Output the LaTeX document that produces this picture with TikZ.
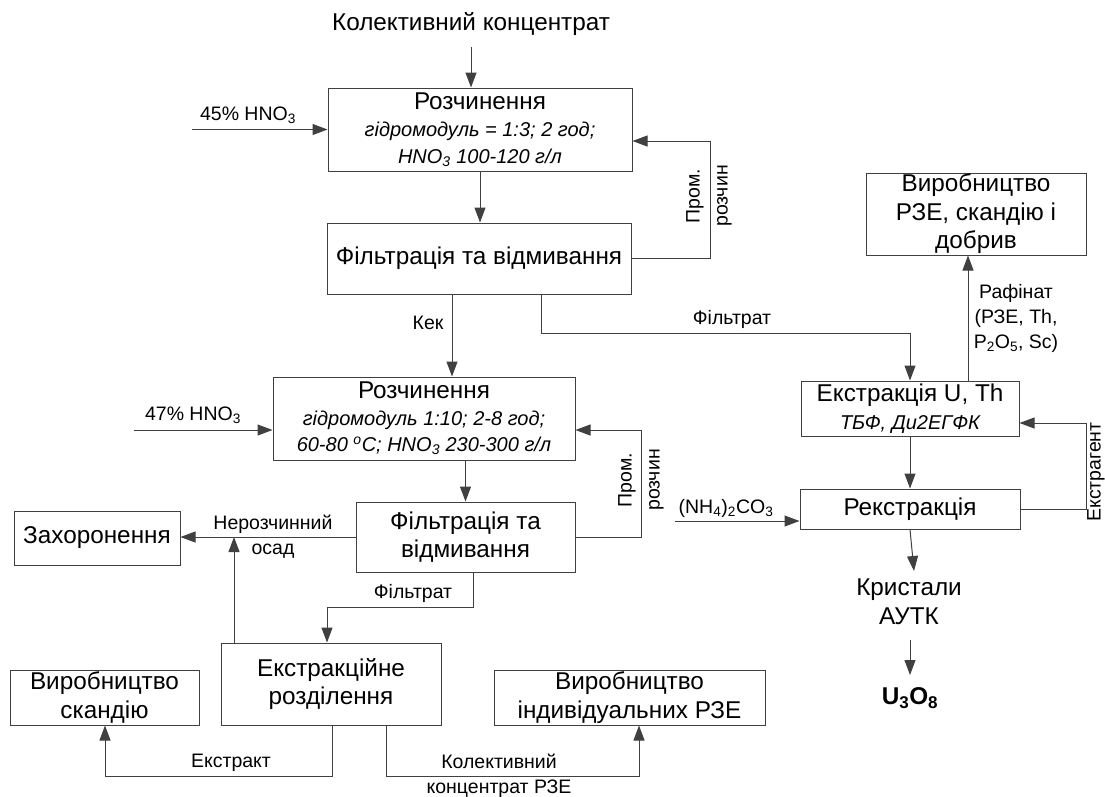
\documentclass[tikz,border=0pt]{standalone}
\usepackage{fontspec}
\setmainfont{Liberation Sans}
\usetikzlibrary{arrows.meta}
\newcommand\mainf{\fontsize{24.3}{28.5}\selectfont}
\newcommand\labf{\fontsize{19.5}{25}\selectfont}
\newcommand\itf{\fontsize{20}{27}\selectfont\itshape}
\tikzset{
  box/.style={draw=black!75, line width=1pt, inner sep=0pt, align=center, font=\mainf},
  arr/.style={draw=black!75, line width=1pt, -{Triangle[length=15pt,width=11pt]}},
  ln/.style={draw=black!75, line width=1pt},
  lab/.style={inner sep=0pt, align=center, font=\labf},
  rlab/.style={inner sep=0pt, align=center, font=\fontsize{19.5}{28}\selectfont, rotate=90},
  txt/.style={inner sep=0pt, align=center, font=\mainf}
}
\begin{document}
\begin{tikzpicture}[x=1pt,y=-1pt]
\useasboundingbox (0,0) rectangle (1105,796);
% boxes
\node[box, font=\itf, minimum width=304pt, minimum height=83pt] (r1) at (480,129.5)
  {{\mainf\upshape Розчинення}\\гідромодуль = 1:3; 2 год;\\HNO\textsubscript{3} 100-120 г/л};
\node[box, minimum width=304pt, minimum height=71pt] (f1) at (479,258.5) {Фільтрація та відмивання};
\node[box, font=\fontsize{20}{26.5}\selectfont\itshape, minimum width=302pt, minimum height=83pt] (r2) at (424,418.5)
  {{\mainf\upshape Розчинення}\\гідромодуль 1:10; 2-8 год;\\60-80 \textsuperscript{o}C; HNO\textsubscript{3} 230-300 г/л};
\node[box, minimum width=219pt, minimum height=70pt] (f2) at (465.5,537) {Фільтрація та\\відмивання};
\node[box, minimum width=166pt, minimum height=54pt] (zk) at (97,538) {Захоронення};
\node[box, minimum width=220pt, minimum height=82pt] (er) at (331,684) {Екстракційне\\розділення};
\node[box, minimum width=189pt, minimum height=55pt] (sc) at (104.5,697.5) {Виробництво\\скандію};
\node[box, minimum width=271pt, minimum height=55pt] (ind) at (629.5,697.5) {Виробництво\\індивідуальних РЗЕ};
\node[box, minimum width=220pt, minimum height=82pt] (vr) at (976,214) {Виробництво\\РЗЕ, скандію і\\добрив};
\node[box, font=\fontsize{20}{28}\selectfont\itshape, minimum width=218pt, minimum height=55pt] (eu) at (910,408.5)
  {{\mainf\upshape Екстракція U, Th}\\ТБФ, Ди2ЕГФК};
\node[box, minimum width=220pt, minimum height=40pt] (rk) at (910,509) {Рекстракція};
% free texts
\node[txt] (kc) at (471,24) {Колективний концентрат};
\node[txt, font=\fontsize{24.3}{29}\selectfont] (kr) at (909,602) {Кристали\\АУТК};
\node[txt] (u38) at (910,698) {\bfseries U\textsubscript{3}O\textsubscript{8}};
% labels
\node[lab] (l45) at (248,115) {45\% HNO\textsubscript{3}};
\node[lab] (l47) at (193,415) {47\% HNO\textsubscript{3}};
\node[rlab] (lp1) at (709,196) {Пром.\\розчин};
\node[rlab] (lp2) at (641,480) {Пром.\\розчин};
\node[lab] (lkek) at (428,323) {Кек};
\node[lab] (lf1) at (732,319) {Фільтрат};
\node[lab] (lraf) at (1016,318) {Рафінат\\(РЗЕ, Th,\\P\textsubscript{2}O\textsubscript{5}, Sc)};
\node[lab, rotate=90] (lext) at (1096,472) {Екстрагент};
\node[lab] (lnh) at (726,508) {(NH\textsubscript{4})\textsubscript{2}CO\textsubscript{3}};
\node[lab] (lner) at (273,537) {Нерозчинний\\осад};
\node[lab] (lf2) at (413,593) {Фільтрат};
\node[lab] (lekt) at (231,763) {Екстракт};
\node[lab] (lkol) at (499,776) {Колективний\\концентрат РЗЕ};
% coordinates
\coordinate (kc0) at (471,47);
\coordinate (h1) at (192,129.5);
\coordinate (p1a) at (710,258.5);
\coordinate (p1b) at (710,141);
\coordinate (kx) at (452,0);
\coordinate (ft1) at (541,333);
\coordinate (ft2) at (910,333);
\coordinate (h2) at (134,430);
\coordinate (p2a) at (641,537);
\coordinate (p2b) at (641,430);
\coordinate (ux) at (234,0);
\coordinate (fa) at (473,607);
\coordinate (fb) at (327,607);
\coordinate (ea) at (332,776);
\coordinate (eb) at (105,776);
\coordinate (ca) at (386,776);
\coordinate (cb) at (639,776);
\coordinate (rx) at (968,0);
\coordinate (ga) at (1086,509);
\coordinate (gb) at (1086,423);
\coordinate (nh) at (675,521);
\coordinate (kt) at (914,571);
\coordinate (ua) at (910,640);
\coordinate (ub) at (910,675);
% connectors
\draw[arr] (kc0) -- (kc0 |- r1.north);
\draw[arr] (h1) -- (r1.west);
\draw[arr] (r1.south) -- (r1.south |- f1.north);
\draw[arr] (f1.east) -- (p1a) -- (p1b) -- (r1.east |- p1b);
\draw[arr] (f1.south -| kx) -- (r2.north -| kx);
\draw[arr] (f1.south -| ft1) -- (ft1) -- (ft2) -- (eu.north);
\draw[arr] (h2) -- (r2.west |- h2);
\draw[arr] (r2.south -| f2.north) -- (f2.north);
\draw[arr] (f2.east) -- (p2a) -- (p2b) -- (r2.east |- p2b);
\draw[arr] (f2.west) -- (zk.east |- f2.west);
\draw[arr] (er.north -| ux) -- (ux |- f2.west);
\draw[arr] (f2.south -| fa) -- (fa) -- (fb) -- (er.north -| fb);
\draw[arr] (er.south -| ea) -- (ea) -- (eb) -- (sc.south -| eb);
\draw[arr] (er.south -| ca) -- (ca) -- (cb) -- (ind.south -| cb);
\draw[arr] (eu.north -| rx) -- (vr.south -| rx);
\draw[arr] (eu.south) -- (rk.north);
\draw[arr] (rk.east) -- (ga) -- (gb) -- (eu.east |- gb);
\draw[arr] (nh) -- (rk.west |- nh);
\draw[arr] (rk.south) -- (kt);
\draw[arr] (ua) -- (ub);
\end{tikzpicture}
\end{document}
